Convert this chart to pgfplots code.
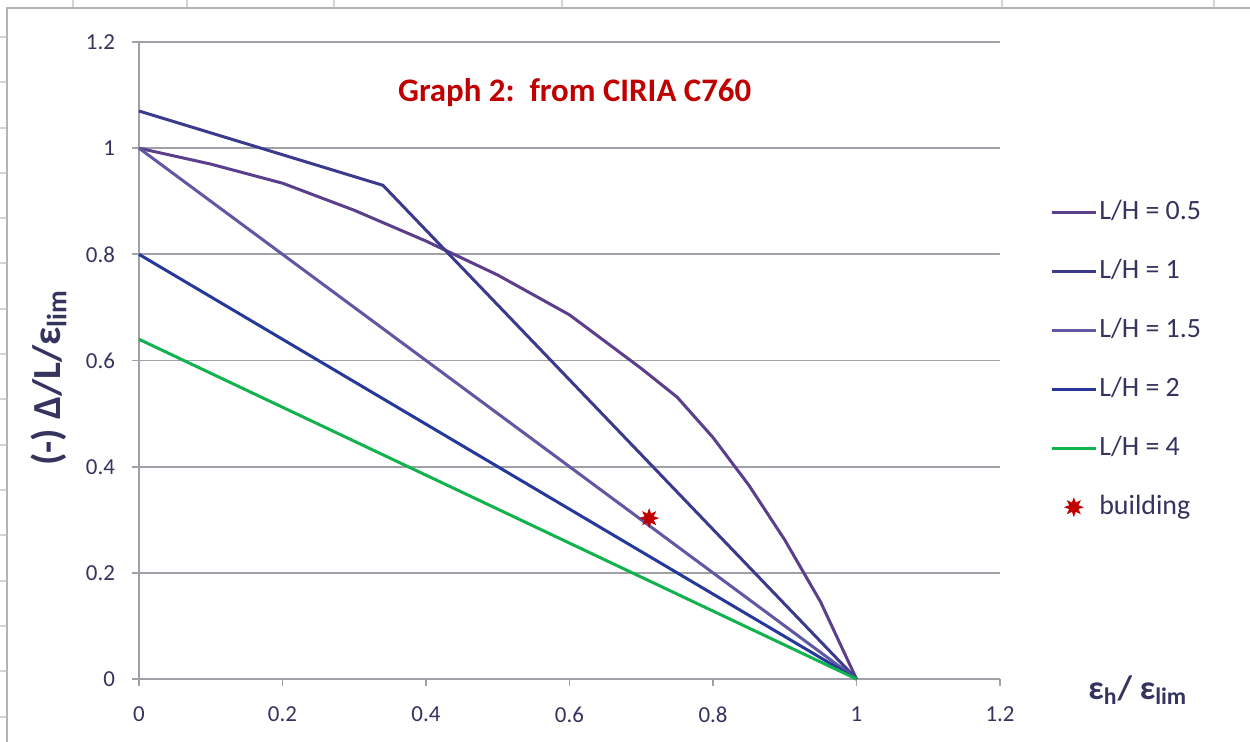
\documentclass[border=0pt]{standalone}
\usepackage{fontspec}
\setmainfont{Carlito}
\usepackage{pgfplots}
\pgfplotsset{compat=1.18}
\definecolor{c05}{HTML}{5B3F8D}
\definecolor{c1}{HTML}{3C3A8C}
\definecolor{c15}{HTML}{6058A3}
\definecolor{c2}{HTML}{26399A}
\definecolor{c4}{HTML}{12B24E}
\definecolor{cred}{HTML}{C00000}
\definecolor{txt}{HTML}{34345F}
\definecolor{axgray}{HTML}{A0A0A8}
\definecolor{sheet}{HTML}{D4D4D4}

\pgfdeclareplotmark{burst}{%
  \pgfpathmoveto{\pgfpointpolar{90}{\pgfplotmarksize}}%
  \pgfpathlineto{\pgfpointpolar{112.5}{0.5\pgfplotmarksize}}%
  \pgfpathlineto{\pgfpointpolar{135}{\pgfplotmarksize}}%
  \pgfpathlineto{\pgfpointpolar{157.5}{0.5\pgfplotmarksize}}%
  \pgfpathlineto{\pgfpointpolar{180}{\pgfplotmarksize}}%
  \pgfpathlineto{\pgfpointpolar{202.5}{0.5\pgfplotmarksize}}%
  \pgfpathlineto{\pgfpointpolar{225}{\pgfplotmarksize}}%
  \pgfpathlineto{\pgfpointpolar{247.5}{0.5\pgfplotmarksize}}%
  \pgfpathlineto{\pgfpointpolar{270}{\pgfplotmarksize}}%
  \pgfpathlineto{\pgfpointpolar{292.5}{0.5\pgfplotmarksize}}%
  \pgfpathlineto{\pgfpointpolar{315}{\pgfplotmarksize}}%
  \pgfpathlineto{\pgfpointpolar{337.5}{0.5\pgfplotmarksize}}%
  \pgfpathlineto{\pgfpointpolar{0}{\pgfplotmarksize}}%
  \pgfpathlineto{\pgfpointpolar{22.5}{0.5\pgfplotmarksize}}%
  \pgfpathlineto{\pgfpointpolar{45}{\pgfplotmarksize}}%
  \pgfpathlineto{\pgfpointpolar{67.5}{0.5\pgfplotmarksize}}%
  \pgfpathclose
  \pgfusepathqfill
}
\pgfplotsset{
  linelegend/.style={legend image code/.code={\draw[##1, line width=1.5bp] (0bp,0bp) -- (22bp,0bp);}},
  marklegend/.style={legend image code/.code={\draw[##1] plot coordinates {(11bp,0bp)};}},
}

\begin{document}
\begin{tikzpicture}
\useasboundingbox (0,0) rectangle (625bp,371bp);
\fill[white] (0,0) rectangle (625bp,371bp);
% spreadsheet grid fragments outside the chart area
\foreach \yy in {37,82,128,173,218,263,309,354,399,445,490,535,581,626,671,717}
  \draw[sheet, line width=0.6bp] (0bp,{(742-\yy)/2*1bp}) -- (3.5bp,{(742-\yy)/2*1bp});
\foreach \xx in {73,187,334,562,1002,1214}
  \draw[sheet, line width=0.6bp] ({\xx/2*1bp},367bp) -- ({\xx/2*1bp},371bp);
% chart area border
\draw[axgray!80, line width=1.2bp] (3.5bp,-2bp) -- (3.5bp,367bp) -- (627bp,367bp);

\begin{axis}[
  at={(69.5bp,31.5bp)}, anchor=south west,
  scale only axis, width=430.5bp, height=318.5bp,
  xmin=0, xmax=1.2, ymin=0, ymax=1.2,
  xtick={0,0.2,0.4,0.6,0.8,1,1.2},
  ytick={0,0.2,0.4,0.6,0.8,1,1.2},
  axis x line*=bottom, axis y line*=left,
  ymajorgrids, grid style={axgray, line width=0.9bp},
  axis line style={axgray, line width=0.9bp},
  tick style={axgray, line width=0.9bp},
  tick align=outside, major tick length=3.5bp,
  /pgf/number format/assume math mode=true,
  ticklabel style={font=\fontsize{11.5}{13}\selectfont, text=txt},
  xticklabel style={yshift=-7bp},
  yticklabel style={xshift=-5bp},
  ylabel={(-) Δ/L/ε\textsubscript{lim}},
  ylabel style={at={(axis description cs:-0.105,0.4725)}, anchor=center,
    font=\bfseries\fontsize{20}{22}\selectfont, text=txt},
  xlabel={ε\textsubscript{h}/ ε\textsubscript{lim}},
  xlabel style={at={(axis description cs:1.160,-0.017)}, anchor=center,
    font=\bfseries\fontsize{17}{20}\selectfont, text=txt},
  legend style={at={(axis description cs:1.058,0.757)}, anchor=north west,
    draw=none, fill=none, inner sep=0pt,
    font=\fontsize{14}{16}\selectfont, text=txt,
    row sep=14.5bp,
    nodes={inner sep=1bp, text height=10bp, text depth=3bp},
    cells={anchor=west}},
  linelegend,
  clip=false,
]
\addplot[c05, line width=1.5bp] coordinates {
 (0,1.0) (0.1,0.97) (0.2,0.934) (0.3,0.883) (0.4,0.825) (0.5,0.761)
 (0.6,0.686) (0.7,0.585) (0.75,0.531) (0.8,0.455) (0.85,0.365)
 (0.9,0.262) (0.95,0.145) (1.0,0.0)};
\addlegendentry{L/H = 0.5}
\addplot[c1, line width=1.5bp] coordinates {(0,1.07) (0.34,0.93) (1,0)};
\addlegendentry{L/H = 1}
\addplot[c15, line width=1.5bp] coordinates {(0,1.0) (1,0)};
\addlegendentry{L/H = 1.5}
\addplot[c2, line width=1.5bp] coordinates {(0,0.8) (1,0)};
\addlegendentry{L/H = 2}
\addplot[c4, line width=1.5bp] coordinates {(0,0.64) (1,0)};
\addlegendentry{L/H = 4}
\addplot[only marks, mark=burst, mark size=5bp, color=cred, marklegend]
  coordinates {(0.711,0.303)};
\addlegendentry{building}
\node[font=\bfseries\fontsize{16.5}{19}\selectfont, text=cred]
  at (axis description cs:0.506,0.92) {Graph 2:\ \ from CIRIA C760};
\end{axis}
\end{tikzpicture}
\end{document}
